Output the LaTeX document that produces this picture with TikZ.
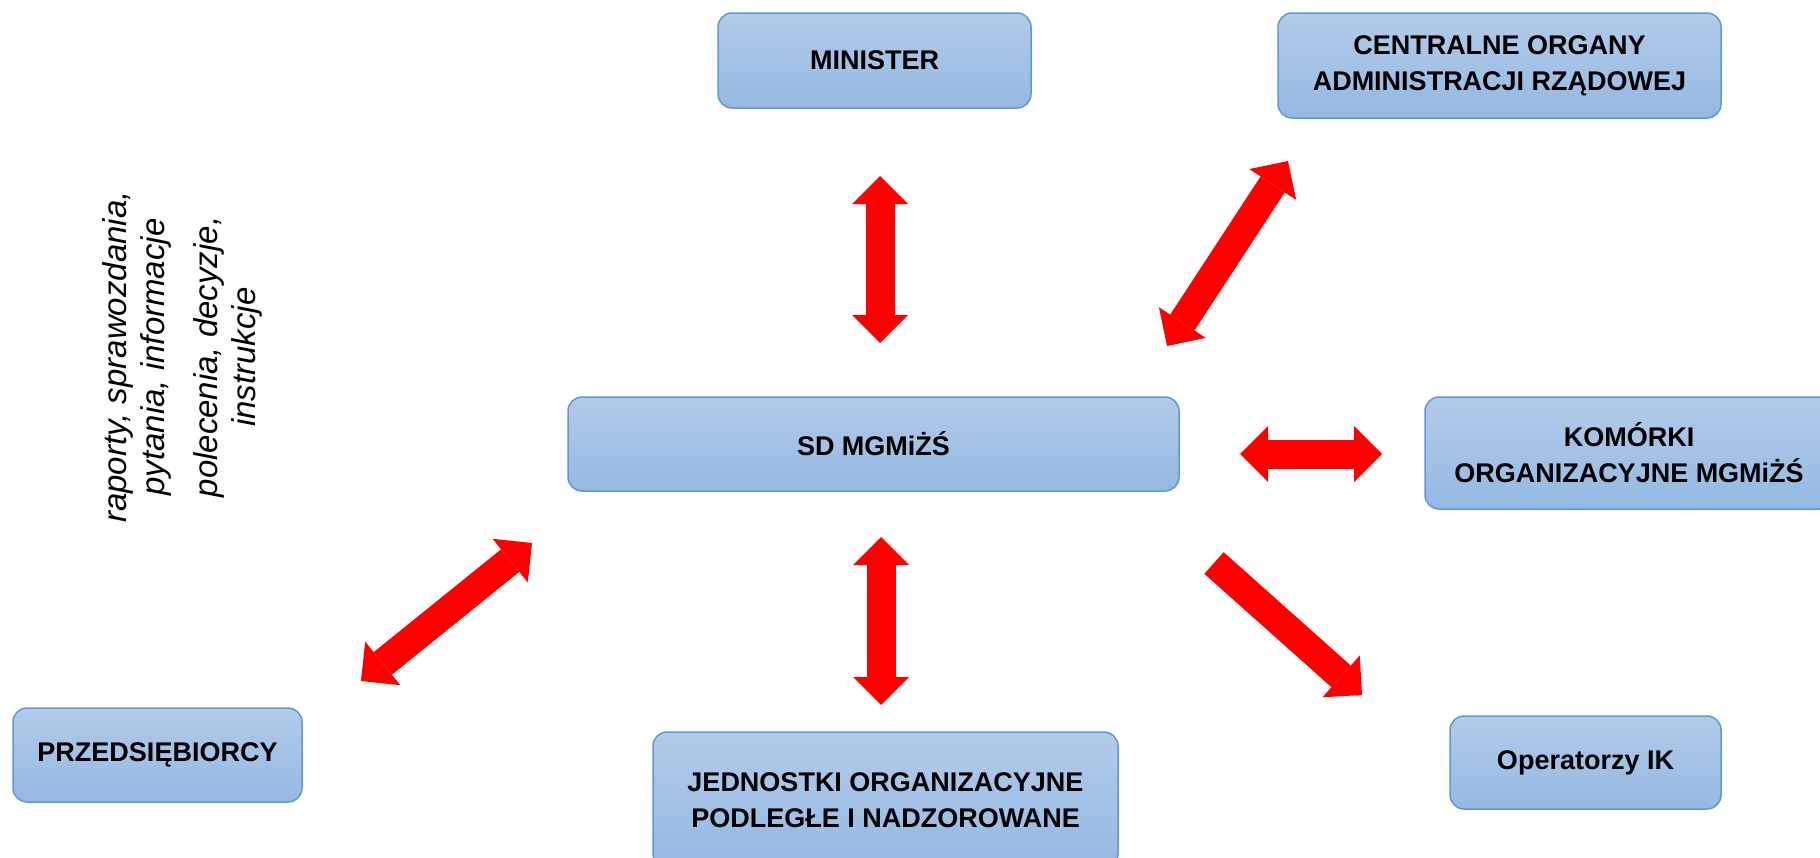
\documentclass[tikz,border=0pt]{standalone}
\usepackage{fontspec}
\setmainfont{Liberation Sans}
\usetikzlibrary{positioning,arrows.meta,calc}

\definecolor{boxtop}{RGB}{178,203,234}
\definecolor{boxbot}{RGB}{148,185,226}
\definecolor{boxline}{RGB}{98,152,213}

\begin{document}
\begin{tikzpicture}[x=1pt,y=-1pt,
	blok/.style={rectangle,rounded corners=14pt,draw=boxline,line width=1.5pt,
		top color=boxtop,bottom color=boxbot,align=center,inner sep=0pt,
		font=\fontsize{27}{36}\selectfont\bfseries},
	obie/.style={red,line width=29pt,
		{Triangle[width=56pt,length=28pt,line width=0pt]}-{Triangle[width=56pt,length=28pt,line width=0pt]}},
	jedna/.style={red,line width=29pt,-{Triangle[width=56pt,length=28pt,line width=0pt]}}]
	\useasboundingbox (0,0) rectangle (1820,857);

	\node[blok,minimum width=313pt,minimum height=95pt] (min) at (874.5,60.5) {MINISTER};
	\node[blok,minimum width=443pt,minimum height=105pt] (cent) at (1499.5,65.5) {CENTRALNE ORGANY\\ADMINISTRACJI RZĄDOWEJ};
	\node[blok,minimum width=611pt,minimum height=94pt] (sd) at (873.5,444) {SD MGMiŻŚ};
	\node[blok,minimum width=408pt,minimum height=112pt] (kom) at (1629,453) {KOMÓRKI\\ORGANIZACYJNE MGMiŻŚ};
	\node[blok,minimum width=271pt,minimum height=93pt] (oper) at (1585.5,762.5) {Operatorzy IK};
	\node[blok,minimum width=289pt,minimum height=94pt] (przed) at (157.5,755) {PRZEDSIĘBIORCY};
	\node[blok,minimum width=465pt,minimum height=136pt] (jedn) at (885.5,800) {JEDNOSTKI ORGANIZACYJNE\\PODLEGŁE I NADZOROWANE};

	\node[rotate=90,align=center,inner sep=0pt,font=\fontsize{33}{38}\selectfont\itshape] (opis) at (182,357)
		{raporty, sprawozdania,\\pytania, informacje\\[15pt]polecenia, decyzje,\\instrukcje};

	% konce strzalek
	\coordinate (a1g) at (880,176);   \coordinate (a1d) at (880,343);  % min - sd
	\coordinate (a2g) at (1288,161);  \coordinate (a2d) at (1167,346); % cent - sd
	\coordinate (a3l) at (1240,454);  \coordinate (a3p) at (1382,454); % sd - kom
	\coordinate (a4p) at (1214,563);  \coordinate (a4k) at (1362,695); % sd - oper
	\coordinate (a5g) at (881,537);   \coordinate (a5d) at (881,705);  % sd - jedn
	\coordinate (a6g) at (532,543);   \coordinate (a6d) at (361,681);  % sd - przed

	\draw[obie] (a1g) -- (a1d);
	\draw[obie] (a2g) -- (a2d);
	\draw[obie] (a3l) -- (a3p);
	\draw[jedna] (a4p) -- (a4k);
	\draw[obie] (a5g) -- (a5d);
	\draw[obie] (a6g) -- (a6d);
\end{tikzpicture}
\end{document}
